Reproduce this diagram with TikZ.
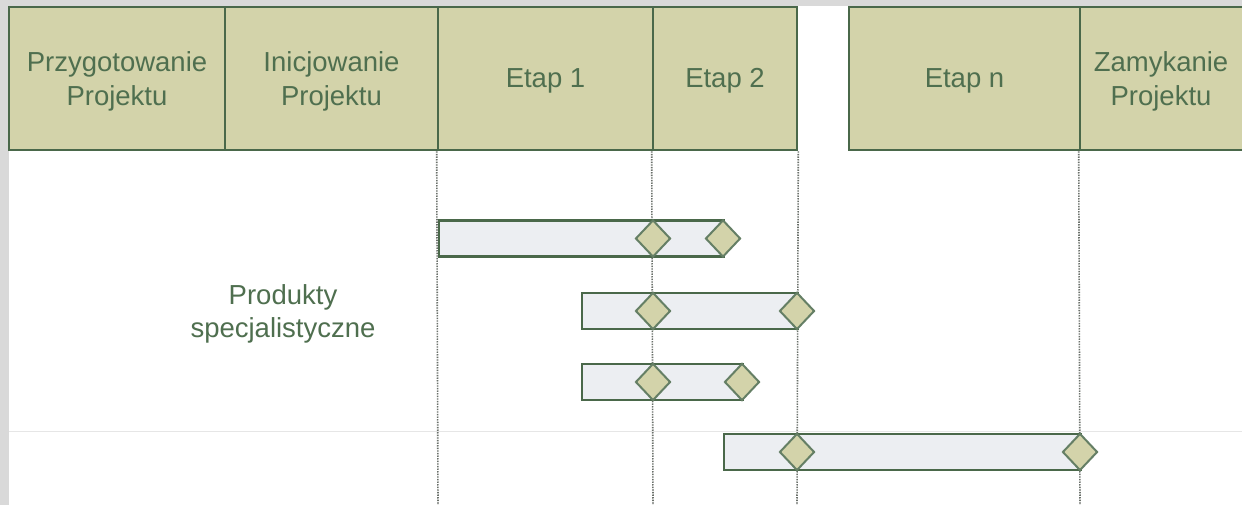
\documentclass[tikz,border=0pt]{standalone}
\usepackage{fontspec}
\setmainfont{Liberation Sans}
\usetikzlibrary{shapes.geometric}
\definecolor{frame}{HTML}{D9D9D9}
\definecolor{edge}{HTML}{4A684A}
\definecolor{ink}{HTML}{4F6F4F}
\definecolor{olive}{HTML}{D3D3AA}
\definecolor{barfill}{HTML}{ECEEF2}
\definecolor{dots}{HTML}{6A706A}
\definecolor{rule}{HTML}{E6E6E6}
\tikzset{
  cell/.style={draw=edge, line width=2.6pt, fill=olive, minimum height=143pt,
    inner sep=0pt},
  caption/.style={text=ink, align=center, inner sep=0pt,
    font=\fontsize{27.5}{33.5}\selectfont},
  task/.style={draw=edge, line width=2.2pt, fill=barfill, minimum height=36pt,
    inner sep=0pt, anchor=west},
  milestone/.style={diamond, draw=edge!85!white, line width=2pt, fill=olive,
    minimum width=35pt, minimum height=37pt, inner sep=0pt},
  gridline/.style={draw=dots, line width=1.6pt, dash pattern=on 1.4pt off 1.2pt}
}
\begin{document}
\begin{tikzpicture}[x=1pt, y=-1pt]
  \useasboundingbox (0,0) rectangle (1242,505);
  % page frame and white canvas
  \fill[frame] (0,0) rectangle (1242,505);
  \fill[white] (9,6) rectangle (1242,505);
  \draw[rule, line width=1pt] (9,431) -- (1242,431);

  % phase header
  \node[cell, minimum width=216pt] (prep) at (117,78.5) {};
  \node[cell, minimum width=213pt] (init) at (331.5,78.5) {};
  \node[cell, minimum width=215pt] (st1) at (545.5,78.5) {};
  \node[cell, minimum width=144pt] (st2) at (725,78.5) {};
  \node[cell, minimum width=231pt] (stn) at (964.5,78.5) {};
  \node[cell, minimum width=170pt] (close) at (1165,78.5) {};

  \node[caption] (tprep) at ([yshift=-3pt]prep.center) {Przygotowanie\\Projektu};
  \node[caption] (tinit) at ([yshift=-3pt]init.center) {Inicjowanie\\Projektu};
  \node[caption] (tst1) at ([yshift=-2pt]st1.center) {Etap 1};
  \node[caption] (tst2) at ([yshift=-2pt]st2.center) {Etap 2};
  \node[caption] (tstn) at ([yshift=-2pt]stn.center) {Etap n};
  \node[caption] (tclose) at ([xshift=-4pt,yshift=-3pt]close.center) {Zamykanie\\Projektu};

  % stage boundaries
  \coordinate (e1) at (438,505);
  \coordinate (e2) at (653,505);
  \coordinate (e3) at (797,505);
  \coordinate (e4) at (1080,505);
  \draw[gridline] (st1.south west) -- (e1);
  \draw[gridline] (st2.south west) -- (e2);
  \draw[gridline] (st2.south east) -- (e3);
  \draw[gridline] (close.south west) -- (e4);

  % deliverables
  \node[task, minimum width=285pt] (b1) at (438,238.5) {};
  \node[task, minimum width=216pt] (b2) at (581,311) {};
  \node[task, minimum width=161pt] (b3) at (581,382) {};
  \node[task, minimum width=357pt] (b4) at (723,452) {};

  \node[milestone] (m11) at (653,238.5) {};
  \node[milestone] (m12) at (723,238.5) {};
  \node[milestone] (m21) at (653,311) {};
  \node[milestone] (m22) at (797,311) {};
  \node[milestone] (m31) at (653,382) {};
  \node[milestone] (m32) at (742,382) {};
  \node[milestone] (m41) at (797,452) {};
  \node[milestone] (m42) at (1080,452) {};

  \node[caption] (prod) at (283,314) {Produkty\\specjalistyczne};
\end{tikzpicture}
\end{document}
